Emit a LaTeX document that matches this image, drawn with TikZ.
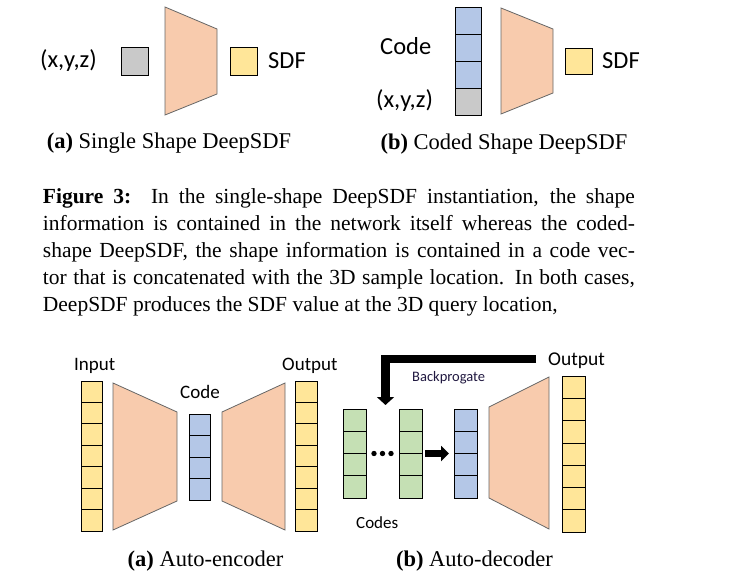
\documentclass[tikz,border=0pt]{standalone}
\usepackage{fontspec}
\setmainfont{Liberation Serif}
\newfontfamily\labfont{Carlito}
\usepackage{tikz}
\usetikzlibrary{arrows.meta,positioning}

\definecolor{netorange}{HTML}{F8CBAD}
\definecolor{sdfyellow}{HTML}{FFE699}
\definecolor{xyzgray}{HTML}{C9C9C9}
\definecolor{codeblue}{HTML}{B4C7E7}
\definecolor{codegreen}{HTML}{C5E0B4}
\definecolor{bpnavy}{HTML}{201840}

\begin{document}
\begin{tikzpicture}[
  x=1pt, y=-1pt,
  cell/.style={draw, line width=0.8pt, inner sep=0pt, outer sep=0pt},
  net/.style={fill=netorange, draw=black!60, line width=0.8pt},
  lab/.style={font=\labfont\fontsize{24.5}{28}\selectfont, inner sep=0pt},
  smalllab/.style={font=\labfont\fontsize{19}{23}\selectfont, inner sep=0pt, anchor=base west},
  subcap/.style={font=\fontsize{22.5}{27}\selectfont, inner sep=0pt, anchor=base},
  fat/.style={line width=8.5pt, -{Triangle[width=17pt,length=8pt]}},
  push/.style={line width=7pt, -{Triangle[width=15pt,length=8pt]}}
]
\useasboundingbox (0,0) rectangle (746,585);

% (a) single shape
\node[cell, fill=xyzgray, minimum width=27pt, minimum height=28pt] (xyzA) at (134.5,61) {};
\filldraw[net] (165,7) -- (217,29) -- (217,94) -- (165,115) -- cycle;
\node[cell, fill=sdfyellow, minimum width=27pt, minimum height=28pt] (sdfA) at (243.5,61) {};
\node[lab, left=24pt of xyzA] (xyzlabA) {(x,y,z)};
\node[lab, right=11pt of sdfA] (sdflabA) {SDF};
\node[subcap] (capA) at (169,148.5) {\textbf{(a)} Single Shape DeepSDF};

% (b) coded shape
\foreach \i/\c in {1/codeblue,2/codeblue,3/codeblue,4/xyzgray}
  \node[cell, fill=\c, minimum width=26pt, minimum height=27pt] (vecB\i) at (468,7+27*\i-13.5) {};
\filldraw[net] (501,8) -- (553,29) -- (553,93) -- (501,114) -- cycle;
\node[cell, fill=sdfyellow, minimum width=27pt, minimum height=26pt] (sdfB) at (578.5,61) {};
\node[lab, anchor=base west] (codelabB) at (380,55) {Code};
\node[lab, anchor=base west] (xyzlabB) at (376,108) {(x,y,z)};
\node[lab, right=10pt of sdfB] (sdflabB) {SDF};
\node[subcap] (capB) at (504,150) {\textbf{(b)} Coded Shape DeepSDF};

% caption text
\node[inner sep=0pt, anchor=north west, text width=592pt, align=justify,
  font=\fontsize{21.5}{27}\selectfont] (figtext) at (42.7,188)
  {\textbf{Figure 3:}\ \ In the single-shape DeepSDF instantiation, the shape\linebreak
   information is contained in the network itself whereas the coded-\linebreak
   shape DeepSDF, the shape information is contained in a code vec-\linebreak
   tor that is concatenated with the 3D sample location. In both cases,\linebreak
   DeepSDF produces the SDF value at the 3D query location,};

% auto-encoder
\foreach \i in {1,...,7}
  \node[cell, fill=sdfyellow, minimum width=21pt, minimum height=21.43pt] (inC\i) at (91.5,381+21.43*\i-10.715) {};
\filldraw[net] (113,383) -- (177,412) -- (177,501) -- (113,530) -- cycle;
\foreach \i in {1,...,4}
  \node[cell, fill=codeblue, minimum width=21pt, minimum height=21.5pt] (codeC\i) at (199.5,414+21.5*\i-10.75) {};
\filldraw[net] (222,412) -- (285,383) -- (285,530) -- (222,501) -- cycle;
\foreach \i in {1,...,7}
  \node[cell, fill=sdfyellow, minimum width=22pt, minimum height=21.43pt] (outC\i) at (306,381+21.43*\i-10.715) {};
\node[smalllab] (inlabC) at (74,370.7) {Input};
\node[smalllab] (codelabC) at (180,398) {Code};
\node[smalllab] (outlabC) at (282,370.7) {Output};
\node[subcap] (capC) at (205.5,566.5) {\textbf{(a)} Auto-encoder};

% auto-decoder
\foreach \i in {1,...,4} {
  \node[cell, fill=codegreen, minimum width=23pt, minimum height=22.25pt] (gA\i) at (354.5,409+22.25*\i-11.125) {};
  \node[cell, fill=codegreen, minimum width=23pt, minimum height=22.25pt] (gB\i) at (410.5,409+22.25*\i-11.125) {};
  \node[cell, fill=codeblue, minimum width=23pt, minimum height=22.25pt] (bl\i) at (465.5,409+22.25*\i-11.125) {};
}
\node[inner sep=0pt, minimum width=26pt, minimum height=6pt] (dots) at (382.5,453.5) {};
\foreach \dx in {-8.5,0,8.5}
  \fill ([xshift=\dx pt]dots.center) circle (2.7);
\filldraw[net] (489,407) -- (549,377) -- (549,529) -- (489,498) -- cycle;
\foreach \i in {1,...,7}
  \node[cell, fill=sdfyellow, minimum width=23pt, minimum height=22.3pt] (outD\i) at (573.5,376+22.3*\i-11.15) {};
\draw[push, shorten <=3pt, shorten >=5pt] (gB2.south east) -- (bl2.south west);
\coordinate (bpstart) at (536,359);
\coordinate (bpend) at (385.5,405);
\draw[fat] (bpstart) -| (bpend);
\node[font=\labfont\fontsize{14.5}{17}\selectfont, text=bpnavy, inner sep=0pt, anchor=base west] (bplab) at (412,381.7) {Backprogate};
\node[font=\labfont\fontsize{19.5}{23}\selectfont, inner sep=0pt, anchor=base west] (outlabD) at (548,365) {Output};
\node[font=\labfont\fontsize{17}{20}\selectfont, inner sep=0pt, anchor=base west] (codeslab) at (356,528) {Codes};
\node[subcap] (capD) at (474.5,566.5) {\textbf{(b)} Auto-decoder};
\end{tikzpicture}
\end{document}
